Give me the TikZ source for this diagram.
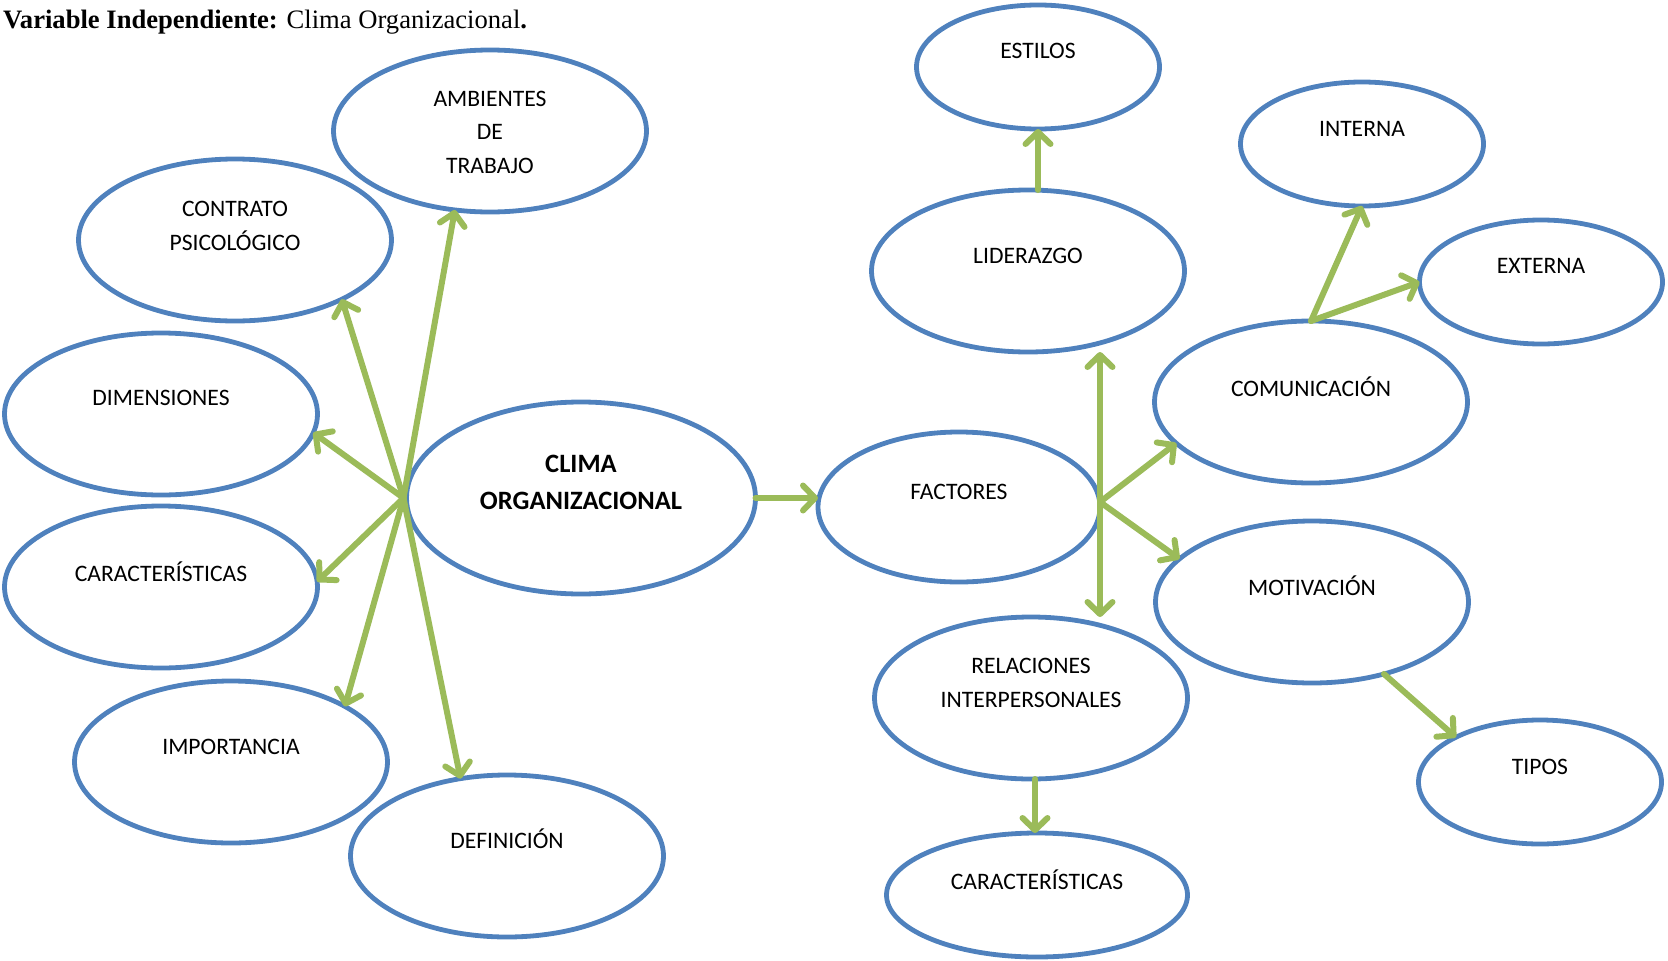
\documentclass[tikz,border=0pt]{standalone}
\usepackage{fontspec}
\setmainfont{Liberation Serif}
\newfontfamily\calib{Carlito}
\usetikzlibrary{arrows.meta}
\usetikzlibrary{shapes.geometric}
\definecolor{bubblue}{HTML}{4F81BD}
\definecolor{arrgreen}{HTML}{9BBB59}
\tikzstyle{bub} = [ellipse, draw=bubblue, line width=4.8pt, inner sep=0pt,
    outer sep=0pt, minimum width=313pt, minimum height=162pt]
\tikzstyle{small} = [minimum width=243pt, minimum height=124pt]
\tikzstyle{lbl} = [font=\calib\fontsize{23.6}{33.5}\selectfont, align=center, inner sep=0pt]
\tikzstyle{line} = [draw=arrgreen, line width=6pt,
    -{Straight Barb[length=12pt,width=25pt,round]}, line cap=round]

\begin{document}
\begin{tikzpicture}[x=1pt, y=-1pt]
  \useasboundingbox (0,0) rectangle (1668,961);
  \node [anchor=base west, inner sep=0pt, font=\fontsize{26.6}{30}\selectfont] (title) at (3,28)
    {\textbf{Variable Independiente:} Clima Organizacional\textbf{.}};

  % left side
  \node [bub, minimum width=349pt, minimum height=192pt] (clima) at (581,498) {};
  \node [bub] (amb) at (490,131) {};
  \node [bub] (con) at (235,240) {};
  \node [bub] (dim) at (161,414) {};
  \node [bub] (car1) at (161,587) {};
  \node [bub] (imp) at (231,762) {};
  \node [bub] (def) at (507,856) {};

  % right side
  \node [bub, minimum width=282pt, minimum height=150pt] (fac) at (959,507) {};
  \node [bub] (lid) at (1028,271) {};
  \node [bub, small] (est) at (1038,67) {};
  \node [bub] (com) at (1311,402) {};
  \node [bub, small] (int) at (1362,144) {};
  \node [bub, small] (ext) at (1541,282) {};
  \node [bub] (mot) at (1312,602) {};
  \node [bub, small] (tip) at (1540,782) {};
  \node [bub] (rel) at (1031,698) {};
  \node [bub, small, minimum width=301pt] (car2) at (1037,895) {};

  % texts
  \node [lbl, font=\calib\bfseries\fontsize{26.5}{37}\selectfont] (t-clima)
    at ([yshift=16]clima.center) {CLIMA\\ORGANIZACIONAL};
  \node [lbl] (t-amb) at ([yshift=-1]amb.center) {AMBIENTES\\DE\\TRABAJO};
  \node [lbl] (t-con) at ([yshift=14]con.center) {CONTRATO\\PSICOLÓGICO};
  \node [lbl] (t-dim) at ([yshift=16]dim.center) {DIMENSIONES};
  \node [lbl] (t-car1) at ([yshift=15]car1.center) {CARACTERÍSTICAS};
  \node [lbl] (t-imp) at ([yshift=15]imp.center) {IMPORTANCIA};
  \node [lbl] (t-def) at ([yshift=17]def.center) {DEFINICIÓN};
  \node [lbl] (t-fac) at ([yshift=15]fac.center) {FACTORES};
  \node [lbl] (t-lid) at ([yshift=15]lid.center) {LIDERAZGO};
  \node [lbl] (t-est) at ([yshift=16]est.center) {ESTILOS};
  \node [lbl] (t-com) at ([yshift=15]com.center) {COMUNICACIÓN};
  \node [lbl] (t-int) at ([yshift=15]int.center) {INTERNA};
  \node [lbl] (t-ext) at ([yshift=16]ext.center) {EXTERNA};
  \node [lbl] (t-mot) at ([yshift=16]mot.center) {MOTIVACIÓN};
  \node [lbl] (t-tip) at ([yshift=15]tip.center) {TIPOS};
  \node [lbl] (t-rel) at ([yshift=15]rel.center) {RELACIONES\\INTERPERSONALES};
  \node [lbl] (t-car2) at ([yshift=15]car2.center) {CARACTERÍSTICAS};

  \coordinate (hubL) at ([xshift=-3pt]clima.west);
  \coordinate (hubR) at ([yshift=5pt]fac.east);

  \path [line] (hubL) -- (amb.246);
  \path [line] (hubL) -- (con.331);
  \path [line] (hubL) -- (dim.353);
  \path [line] (hubL) -- (car1.2);
  \path [line] (hubL) -- (imp.26);
  \path [line] (hubL) -- (def.121);

  \path [line] (clima.east) -- (fac.west |- clima.east);

  \path [line] (hubR) -- (hubR |- lid.south);
  \path [line] (hubR) -- (hubR |- rel.north);
  \path [line] (hubR) -- (com.197);
  \path [line] (hubR) -- (mot.162);

  \path [line] (est.south |- lid.north) -- (est.south);
  \path [line] (com.north) -- (int.south);
  \path [line] (com.north) -- (ext.west);
  \path [line] (mot.315) -- (tip.152);
  \path [line] ([xshift=4pt]rel.south) -- ([xshift=4pt]rel.south |- car2.north);
\end{tikzpicture}
\end{document}
